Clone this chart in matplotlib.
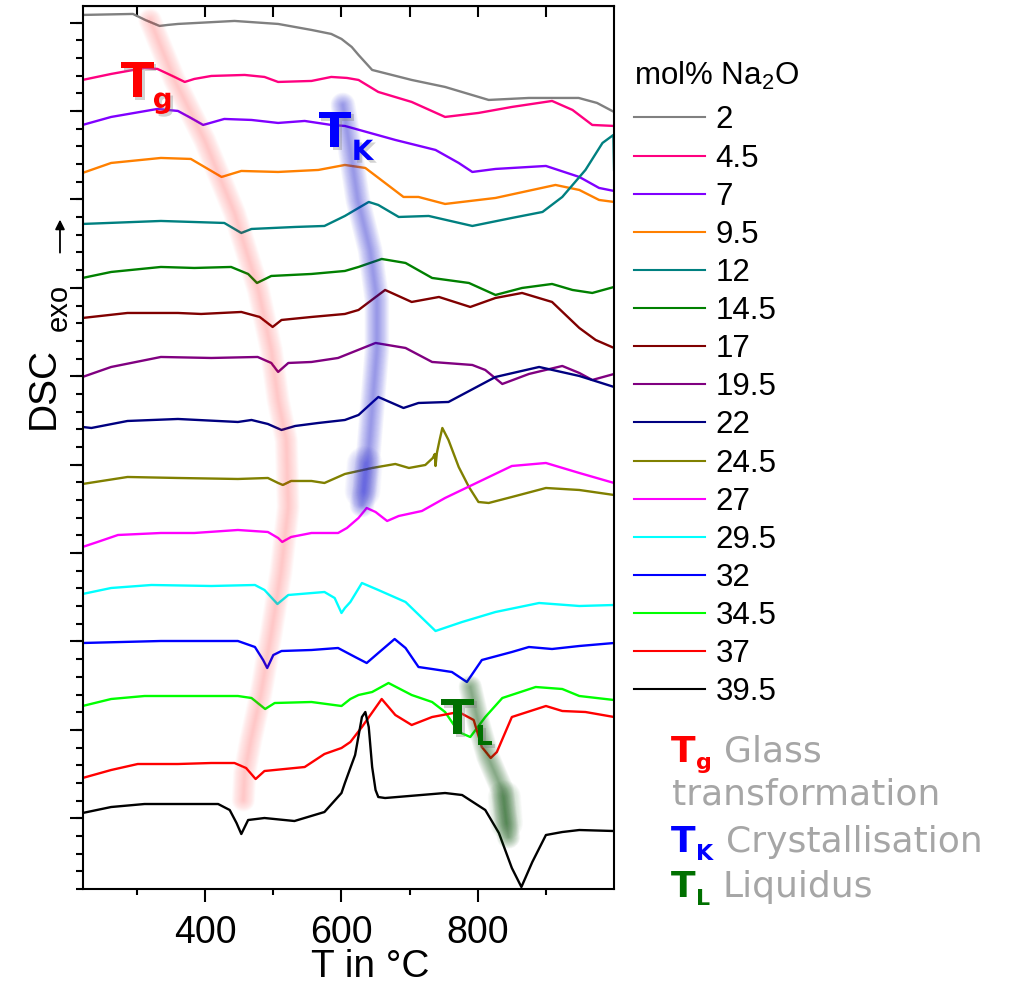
import numpy as np
import matplotlib.pyplot as plt
from matplotlib import patheffects as pe

plt.rcParams['font.family'] = ['Liberation Sans', 'DejaVu Sans']
plt.rcParams['mathtext.fontset'] = 'custom'
plt.rcParams['mathtext.rm'] = 'Liberation Sans'
plt.rcParams['mathtext.it'] = 'Liberation Sans'

# --- data: DSC traces, stacked, arbitrary units ---
labels = ['2', '4.5', '7', '9.5', '12', '14.5', '17', '19.5',
          '22', '24.5', '27', '29.5', '32', '34.5', '37', '39.5']
colors = ['#808080', '#FF0080', '#8000FF', '#FF8000', '#008080', '#008000',
          '#800000', '#800080', '#000080', '#808000', '#FF00FF', '#00FFFF',
          '#0000FF', '#00FF00', '#FF0000', '#000000']

t_2 = [220, 294, 303, 312, 333, 345, 360, 443, 507, 556, 585, 600, 615, 625, 645, 703, 752, 816, 875, 948, 975, 1000]
y_2 = [874, 875, 872, 869, 863, 864, 865, 868, 865, 859, 855, 850, 842, 834, 819, 809, 802, 789, 791, 791, 786, 777]

t_45 = [220, 262, 311, 330, 355, 370, 384, 409, 458, 487, 507, 556, 585, 608, 625, 654, 703, 752, 801, 850, 909, 939, 968, 1000]
y_45 = [809, 815, 821, 820, 812, 807, 810, 813, 814, 812, 807, 808, 812, 811, 809, 797, 787, 772, 776, 782, 788, 779, 764, 763]

t_7 = [220, 262, 330, 360, 379, 397, 428, 468, 507, 546, 585, 605, 679, 738, 772, 792, 826, 900, 949, 978, 1000]
y_7 = [764, 772, 780, 778, 771, 764, 770, 769, 766, 768, 764, 763, 749, 739, 726, 717, 720, 723, 712, 701, 698]

t_95 = [220, 262, 335, 379, 399, 424, 453, 507, 566, 605, 635, 664, 691, 713, 752, 826, 914, 949, 978, 1000]
y_95 = [716, 726, 731, 730, 722, 712, 718, 717, 719, 724, 721, 706, 692, 692, 685, 691, 704, 699, 689, 687]

t_12 = [220, 335, 428, 453, 468, 532, 575, 605, 640, 654, 684, 728, 792, 850, 895, 924, 958, 983, 999, 1000]
y_12 = [665, 668, 666, 656, 660, 662, 663, 673, 687, 684, 672, 673, 663, 671, 677, 692, 719, 746, 754, 719]

t_145 = [220, 262, 335, 384, 438, 463, 476, 497, 556, 605, 625, 659, 694, 733, 787, 826, 865, 909, 939, 968, 1000]
y_145 = [611, 617, 622, 621, 622, 615, 606, 613, 615, 618, 622, 630, 626, 611, 606, 594, 601, 605, 599, 596, 602]

t_17 = [220, 286, 360, 394, 453, 480, 499, 512, 556, 605, 625, 664, 703, 743, 789, 826, 865, 909, 949, 973, 1000]
y_17 = [571, 576, 576, 575, 577, 572, 562, 569, 572, 575, 579, 599, 587, 592, 582, 591, 596, 587, 561, 549, 541]

t_195 = [220, 262, 335, 409, 477, 497, 507, 522, 556, 595, 650, 694, 733, 792, 811, 836, 875, 924, 949, 968, 1000]
y_195 = [512, 522, 532, 531, 532, 526, 517, 526, 527, 531, 546, 541, 527, 524, 519, 505, 515, 523, 516, 509, 515]

t_22 = [220, 233, 286, 360, 448, 468, 492, 512, 532, 566, 605, 625, 654, 691, 713, 757, 826, 890, 949, 1000]
y_22 = [462, 461, 468, 470, 467, 469, 465, 459, 463, 466, 469, 474, 492, 481, 486, 487, 512, 522, 513, 502]

t_245 = [220, 286, 360, 448, 492, 507, 514, 526, 556, 575, 605, 645, 679, 699, 723, 734, 737, 738, 740, 744,
         748, 757, 772, 787, 801, 816, 850, 900, 949, 1000]
y_245 = [405, 412, 411, 410, 411, 406, 404, 408, 408, 406, 415, 421, 425, 421, 424, 431, 435, 423, 436, 449,
         461, 449, 422, 402, 387, 386, 392, 401, 399, 394]

t_27 = [220, 242, 272, 335, 384, 448, 492, 507, 513, 526, 556, 595, 608, 625, 637, 650, 667, 684, 718, 752, 801, 850, 900, 949, 1000]
y_27 = [342, 347, 354, 356, 356, 359, 357, 351, 347, 352, 356, 356, 361, 371, 381, 377, 368, 373, 378, 391, 407, 423, 426, 416, 406]

t_295 = [220, 262, 321, 409, 473, 487, 506, 522, 575, 590, 600, 605, 613, 630, 654, 694, 738, 777, 826, 890, 949, 1000]
y_295 = [295, 301, 304, 303, 304, 299, 285, 294, 297, 291, 276, 281, 287, 306, 299, 287, 258, 267, 277, 286, 283, 284]

t_32 = [220, 335, 448, 473, 485, 491, 500, 512, 556, 595, 620, 637, 654, 678, 694, 713, 733, 762, 784, 806, 850, 875, 909, 949, 1000]
y_32 = [246, 248, 248, 242, 229, 221, 234, 238, 239, 241, 232, 226, 236, 250, 241, 222, 220, 217, 207, 229, 237, 242, 240, 243, 246]

t_345 = [220, 262, 311, 448, 468, 488, 502, 556, 600, 613, 625, 645, 669, 703, 733, 752, 772, 789, 811, 836, 885, 924, 949, 1000]
y_345 = [183, 190, 193, 193, 191, 180, 186, 187, 183, 190, 194, 197, 206, 194, 187, 177, 157, 152, 172, 191, 202, 200, 193, 189]

t_37 = [220, 262, 301, 360, 409, 443, 460, 474, 487, 546, 575, 600, 613, 630, 659, 679, 703, 733, 772, 794, 806, 819, 828,
        850, 900, 924, 958, 1000]
y_37 = [111, 119, 125, 125, 126, 126, 121, 110, 118, 122, 135, 141, 147, 162, 190, 174, 164, 172, 177, 169, 142, 131, 137,
        172, 183, 178, 177, 172]

t_395 = [220, 262, 311, 419, 436, 446, 453, 463, 487, 531, 575, 600, 605, 613, 620, 630, 635, 640, 645, 650, 654, 664,
         752, 777, 811, 831, 850, 864, 880, 900, 924, 949, 1000]
y_395 = [76, 82, 85, 85, 79, 66, 55, 69, 71, 68, 77, 96, 106, 121, 134, 172, 177, 162, 122, 99, 92, 91,
         96, 94, 79, 56, 21, 2, 27, 54, 57, 59, 58]

curves = [(t_2, y_2), (t_45, y_45), (t_7, y_7), (t_95, y_95), (t_12, y_12), (t_145, y_145),
          (t_17, y_17), (t_195, y_195), (t_22, y_22), (t_245, y_245), (t_27, y_27), (t_295, y_295),
          (t_32, y_32), (t_345, y_345), (t_37, y_37), (t_395, y_395)]

# hand-drawn guide bands (Tg, TK, TL)
tg_band_t = [319, 355, 399, 443, 478, 497, 507, 519, 522, 511, 497, 482, 467, 458, 456]
tg_band_y = [869, 809, 749, 676, 599, 539, 489, 449, 382, 316, 256, 196, 149, 116, 89]
tk_band_t = [602, 613, 624, 642, 652, 652, 646, 640, 634, 630]
tk_band_y = [784, 739, 689, 639, 589, 539, 489, 439, 399, 384]
tk_blob_t = [634, 631]
tk_blob_y = [425, 398]
tl_band_t = [789, 801, 815, 836, 840, 845]
tl_band_y = [202, 166, 132, 99, 76, 52]
tl_blob_t = [839, 842]
tl_blob_y = [92, 66]

# --- figure ---
fig = plt.figure(figsize=(10.15, 9.9), dpi=100)
ax = fig.add_axes([0.0813, 0.102, 0.5237, 0.892])

handles = []
for (t, y), c, lab in zip(curves, colors, labels):
    h, = ax.plot(t, y, color=c, lw=1.7, solid_joinstyle='round', zorder=2)
    handles.append(h)


def glow(t, y, color, wmax, alpha, n=24):
    # soft airbrush-like stroke: many thin-to-wide translucent layers
    for w in np.linspace(wmax, 1.0, n):
        ax.plot(t, y, color=color, lw=w, alpha=alpha, solid_capstyle='round',
                solid_joinstyle='round', zorder=3)


glow(tg_band_t, tg_band_y, '#FF4040', 17, 0.013)
glow(tk_band_t, tk_band_y, '#2828E0', 18, 0.024)
glow(tk_blob_t, tk_blob_y, '#2828E0', 26, 0.018)
glow(tl_band_t, tl_band_y, '#1E641E', 17, 0.026)
glow(tl_blob_t, tl_blob_y, '#1E641E', 24, 0.02)

shadow = [pe.withSimplePatchShadow(offset=(2, -2), shadow_rgbFace='gray', alpha=0.35)]
big = dict(family='DejaVu Sans', fontweight='bold', ha='left', va='baseline', zorder=6, path_effects=shadow)
ax.text(276, 792, 'T', color='#FF0000', fontsize=35, **big)
ax.text(323, 781, 'g', color='#FF0000', fontsize=20, **big)
ax.text(566, 742, 'T', color='#0000FF', fontsize=35, **big)
ax.text(615, 729, 'K', color='#0000FF', fontsize=20, **big)
ax.text(746, 155, 'T', color='#007000', fontsize=35, **big)
ax.text(796, 144, 'L', color='#007000', fontsize=20, **big)

ax.set_xlim(220, 1000)
ax.set_ylim(0, 883)
ax.set_xticks([400, 600, 800])
ax.set_xticks([300, 500, 700, 900], minor=True)
ax.set_yticks(np.arange(70.7, 884, 88.4))
ax.set_yticks(np.arange(0, 884, 17.68), minor=True)
ax.set_yticklabels([])
ax.tick_params(axis='x', which='major', direction='out', length=9, width=1.5, pad=10, labelsize=27)
ax.tick_params(axis='x', which='minor', direction='out', length=4, width=1.5)
ax.tick_params(axis='y', which='major', direction='out', length=9.5, width=1.5)
ax.tick_params(axis='y', which='minor', direction='out', length=5, width=1.5)
for s in ax.spines.values():
    s.set_linewidth(1.5)

top = ax.secondary_xaxis('top')
top.set_xticks([300, 400, 500, 600, 700, 800, 900])
top.set_xticklabels([])
top.tick_params(direction='in', length=8, width=1.5)

ax.set_xlabel('T in °C', fontsize=28, labelpad=4)
ax.xaxis.set_label_coords(0.541, -0.068)

narrow = ['Liberation Sans Narrow', 'Liberation Sans']
fig.text(0.0433, 0.608, 'DSC', rotation=90, ha='center', va='center', fontsize=28, family=narrow)
fig.text(0.0581, 0.689, 'exo', rotation=90, ha='center', va='center', fontsize=21, family=narrow)
ax.annotate('', xy=(0.0591, 0.781), xytext=(0.0591, 0.742), xycoords='figure fraction',
            arrowprops=dict(arrowstyle='-|>', color='black', lw=1.3, mutation_scale=14))

leg = ax.legend(handles, labels, title='mol% Na$_2$O', loc='upper left',
                bbox_to_anchor=(0.625, 0.940), bbox_transform=fig.transFigure,
                frameon=False, fontsize=22.5, title_fontsize=22.5, handlelength=2.25,
                handletextpad=0.35, labelspacing=0.26, borderpad=0, borderaxespad=0,
                alignment='left')
leg._legend_box.sep = 10
for line in leg.get_lines():
    line.set_linewidth(1.5)

# key for the guide bands
gray = '#A6A6A6'
key = dict(family='DejaVu Sans', fontweight='bold', ha='left', va='baseline')
fig.text(0.6608, 0.2306, 'T', color='#FF0000', fontsize=26, **key)
fig.text(0.6857, 0.2232, 'g', color='#FF0000', fontsize=16, **key)
fig.text(0.7133, 0.2306, 'Glass', color=gray, fontsize=26, family='DejaVu Sans', va='baseline')
fig.text(0.6618, 0.1869, 'transformation', color=gray, fontsize=26, family='DejaVu Sans', va='baseline')
fig.text(0.6608, 0.1397, 'T', color='#0000FF', fontsize=26, **key)
fig.text(0.6857, 0.1313, 'K', color='#0000FF', fontsize=16, **key)
fig.text(0.7153, 0.1397, 'Crystallisation', color=gray, fontsize=26, family='DejaVu Sans', va='baseline')
fig.text(0.6608, 0.0942, 'T', color='#007000', fontsize=26, **key)
fig.text(0.6857, 0.0859, 'L', color='#007000', fontsize=16, **key)
fig.text(0.7123, 0.0942, 'Liquidus', color=gray, fontsize=26, family='DejaVu Sans', va='baseline')

fig.savefig('out.png', dpi=100)
